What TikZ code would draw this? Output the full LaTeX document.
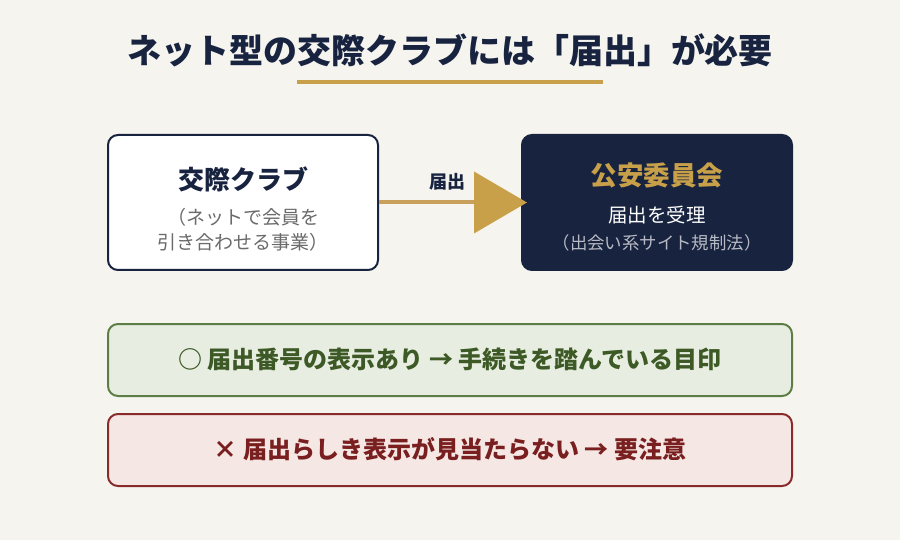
\documentclass[tikz,border=0pt]{standalone}
\usepackage{fontspec}
\setmainfont{Noto Sans CJK JP}
\usetikzlibrary{arrows.meta}
\definecolor{bgc}{HTML}{F6F4EF}
\definecolor{navy}{HTML}{17233F}
\definecolor{gold}{HTML}{C9A04A}
\definecolor{goldline}{HTML}{C8A05C}
\definecolor{graytxt}{HTML}{6A6A6A}
\definecolor{lightgray}{HTML}{B7BAC4}
\definecolor{gfill}{HTML}{E8EDE1}
\definecolor{gborder}{HTML}{5C7E44}
\definecolor{gtext}{HTML}{3D5A26}
\definecolor{rfill}{HTML}{F5E7E4}
\definecolor{rborder}{HTML}{8A2B2B}
\definecolor{rtext}{HTML}{7A1F1F}
\newcommand{\fs}[1]{\fontsize{#1}{#1}\selectfont}
\tikzset{
  box/.style={rectangle, rounded corners=10pt, line width=2pt, minimum width=270pt, minimum height=135pt, inner sep=0pt},
  wide/.style={rectangle, rounded corners=10pt, line width=2pt, minimum width=684pt, minimum height=72pt, inner sep=0pt},
  txt/.style={inner sep=0pt, align=center},
}
\begin{document}
\begin{tikzpicture}[x=1pt,y=-1pt]
\fill[bgc] (0,0) rectangle (900,540);
\useasboundingbox (0,0) rectangle (900,540);
% title
\node[txt, text=navy] (title) at (450,50) {\fs{34}\bfseries ネット型の交際クラブには「届出」が必要};
\coordinate (ul1) at (297,82);
\coordinate (ul2) at (603,82);
\draw[gold, line width=3.5pt] (ul1) -- (ul2);
% left box
\node[box, draw=navy, fill=white] (club) at (243,202.5) {};
\node[txt, text=navy] (clubt) at (243,179) {\fs{26}\bfseries 交際クラブ};
\node[txt, text=graytxt] (clubs) at (243,230) {\fs{19}（ネットで会員を\\[6pt]\fs{19}引き合わせる事業）};
% right box
\node[box, draw=navy, fill=navy] (koan) at (657,202.5) {};
\node[txt, text=gold] (koant) at (657,175) {\fs{26.5}\bfseries 公安委員会};
\node[txt, text=white] (koans) at (657,215) {\fs{19.5}届出を受理};
\node[txt, text=lightgray] (koanl) at (657,243) {\fs{17.4}（出会い系サイト規制法）};
% arrow
\draw[goldline, line width=4pt, shorten >=-6pt, -{Triangle[length=53pt,width=61pt,fill=gold,color=gold]}] (club.east) -- (koan.west);
\node[txt, text=navy] (lbl) at (447,182) {\fs{18}\bfseries 届出};
% green box
\node[wide, draw=gborder, fill=gfill] (ok) at (450,360) {};
\node[txt, text=gtext] (okt) at (450,359) {\fs{24}\bfseries ○ 届出番号の表示あり → 手続きを踏んでいる目印};
% red box
\node[wide, draw=rborder, fill=rfill] (ng) at (450,450) {};
\node[txt, text=rtext] (ngt) at (450,449) {\fs{24}\bfseries × 届出らしき表示が見当たらない → 要注意};
\end{tikzpicture}
\end{document}
